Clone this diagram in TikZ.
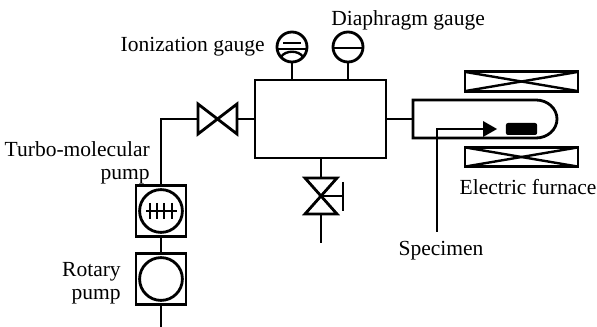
\documentclass[tikz,border=0pt]{standalone}
\usepackage{fontspec}
\setmainfont{Liberation Serif}
\tikzset{
    pipe/.style={line width=2pt},
    thinpipe/.style={line width=1.7pt},
    boxnode/.style={draw,line width=2pt,outer sep=0pt,inner sep=0pt},
    gauge/.style={boxnode,circle,minimum size=0.75cm},
    pumpbox/.style={boxnode,minimum width=1.25cm,minimum height=1.28cm},
    rotor/.style={boxnode,circle,minimum size=1.07cm},
    coil/.style={boxnode,minimum width=2.825cm,minimum height=0.48cm},
    label/.style={font=\fontsize{15.3pt}{16.3pt}\selectfont,inner sep=0pt}
}

\begin{document}
\begin{tikzpicture}[x=0.025cm,y=-0.025cm]
    \useasboundingbox (0,0) rectangle (597,327);

    % chamber and gauges
    \node[boxnode,minimum width=3.275cm,minimum height=1.95cm] (chamber) at (320.5,119) {};
    \node[gauge] (iongauge) at (292,47) {};
    \node[gauge] (diagauge) at (348,47) {};
    \draw[pipe] (iongauge.south) -- (iongauge |- chamber.north);
    \draw[pipe] (diagauge.south) -- (diagauge |- chamber.north);
    \draw[thinpipe] (333.5,48) -- (362.5,48);
    \draw[thinpipe] (283,43) -- (301,43);
    \draw[thinpipe] (277.5,49) -- (306.5,49);
    \draw[thinpipe] (281,57) .. controls (285,50) and (299,50) .. (303,57);

    % valve to the pumps
    \coordinate (valvel) at (198,119);
    \coordinate (valver) at (237,119);
    \draw[pipe,line join=miter] (198,104) -- (237,134) -- (237,104) -- (198,134) -- cycle;
    \draw[pipe] (valver) -- (valver -| chamber.west);

    % pumps
    \node[pumpbox] (turbobox) at (161,211) {};
    \node[rotor] (turbo) at (161,211) {};
    \node[pumpbox] (rotarybox) at (161,279) {};
    \node[rotor] (rotary) at (161,279) {};
    \coordinate (exhaust) at (161,327);
    \draw[pipe] (valvel) -| (turbobox.north);
    \draw[pipe] (turbobox.south) -- (rotarybox.north);
    \draw[pipe] (rotarybox.south) -- (exhaust);
    \draw[thinpipe] (146,211) -- (177,211);
    \foreach \x in {150,157,164,172}
        \draw[thinpipe] (\x,203) -- (\x,219);

    % vent valve
    \coordinate (ventc) at (321,196);
    \coordinate (ventt) at (321,178);
    \coordinate (ventb) at (321,214);
    \coordinate (ventend) at (321,243);
    \draw[pipe,line join=miter] (305,178) -- (337,178) -- (305,214) -- (337,214) -- cycle;
    \draw[pipe] (chamber.south -| ventt) -- (ventt);
    \draw[pipe] (ventb) -- (ventend);
    \draw[pipe] (ventc) -- (343,196);
    \draw[pipe] (343,182) -- (343,211);

    % furnace tube
    \coordinate (tubel) at (413,119);
    \draw[pipe] (chamber.east |- tubel) -- (tubel);
    \draw[pipe] (536,100) -- (413,100) -- (413,138) -- (536,138)
        arc[start angle=-90,end angle=90,x radius=21,y radius=-19];
    \node[coil] (coiltop) at (521.5,81.5) {};
    \node[coil] (coilbot) at (521.5,157) {};
    \draw[thinpipe] (coiltop.north west) -- (coiltop.south east);
    \draw[thinpipe] (coiltop.south west) -- (coiltop.north east);
    \draw[thinpipe] (coilbot.north west) -- (coilbot.south east);
    \draw[thinpipe] (coilbot.south west) -- (coilbot.north east);

    % specimen
    \node[fill=black,rounded corners=1.5pt,minimum width=0.78cm,minimum height=0.3cm,inner sep=0pt] (specimen) at (521.5,129) {};
    \coordinate (holder) at (437,232);
    \coordinate (tip) at (497,129);
    \draw[pipe] (holder) |- (484,129);
    \fill (483,121) -- (tip) -- (483,137) -- cycle;

    % labels
    \node[label,anchor=east] (ionlabel) at (265,47) {Ionization gauge};
    \node[label,anchor=west] (dialabel) at (331,20) {Diaphragm gauge};
    \node[label,align=right,anchor=east] (turbolabel) at (150,163) {Turbo-molecular\\pump};
    \node[label,align=right,anchor=east] (rotarylabel) at (121,283) {Rotary\\pump};
    \node[label] (furnacelabel) at (528,187) {Electric furnace};
    \node[label] (speclabel) at (441,251) {Specimen};
\end{tikzpicture}
\end{document}
